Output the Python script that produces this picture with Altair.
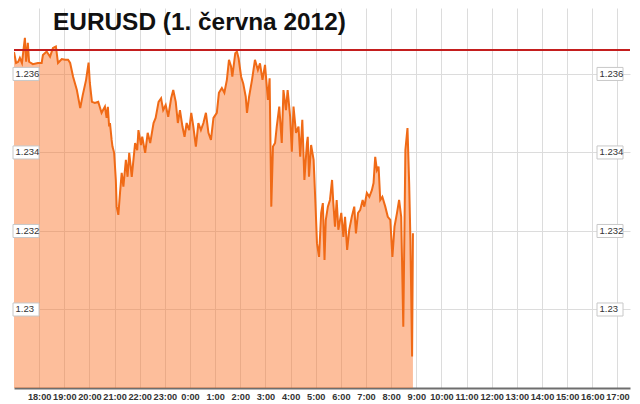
import altair as alt
import pandas as pd

# ---- data ----
TITLE = "EURUSD (1. června 2012)"

# minutes after 17:00 on 31 May 2012
MINUTES_AFTER_17H = [
    0, 5, 10, 14, 19, 26, 29, 33, 36, 45, 57, 66, 69, 78, 86, 93, 100, 105, 114, 122,
    129, 134, 141, 150, 158, 164, 172, 178, 181, 186, 193, 201, 209, 217, 221, 224, 227, 229, 233, 235,
    239, 243, 245, 249, 253, 257, 261, 267, 271, 275, 281, 289, 294, 297, 303, 306, 313, 319, 325, 333,
    338, 345, 351, 356, 362, 368, 375, 380, 386, 391, 396, 402, 407, 412, 418, 423, 428, 434, 440, 446,
    452, 458, 464, 470, 476, 484, 489, 496, 502, 508, 513, 518, 521, 528, 532, 536, 542, 547, 553, 556,
    561, 568, 575, 582, 587, 593, 599, 606, 610, 614, 618, 623, 627, 633, 639, 643, 649, 653, 659, 663,
    667, 673, 679, 683, 688, 693, 699, 701, 704, 709, 715, 720, 723, 728, 733, 737, 741, 744, 749, 754,
    759, 762, 766, 770, 774, 781, 786, 790, 795, 800, 806, 812, 816, 821, 826, 832, 836, 842, 848, 854,
    858, 862, 866, 870, 874, 879, 886, 892, 898, 903, 908, 914, 919, 924, 929, 934, 939, 943, 946, 950,
    952,
]
EURUSD = [
    1.23656, 1.23628, 1.23631, 1.23641, 1.23628, 1.23692, 1.23631, 1.23679, 1.23631, 1.23625,
    1.23628, 1.23628, 1.23648, 1.23657, 1.23644, 1.23666, 1.23670, 1.23628, 1.23638, 1.23636,
    1.23636, 1.23628, 1.23593, 1.23559, 1.23513, 1.23546, 1.23585, 1.23629, 1.23577, 1.23529,
    1.23526, 1.23529, 1.23501, 1.23517, 1.23488, 1.23516, 1.23466, 1.23475, 1.23432, 1.23415,
    1.23399, 1.23330, 1.23262, 1.23241, 1.23297, 1.23348, 1.23313, 1.23381, 1.23338, 1.23399,
    1.23338, 1.23424, 1.23406, 1.23457, 1.23419, 1.23440, 1.23399, 1.23450, 1.23424, 1.23475,
    1.23488, 1.23529, 1.23538, 1.23508, 1.23521, 1.23491, 1.23538, 1.23559, 1.23529, 1.23475,
    1.23508, 1.23466, 1.23440, 1.23475, 1.23457, 1.23501, 1.23466, 1.23415, 1.23475, 1.23457,
    1.23475, 1.23501, 1.23450, 1.23432, 1.23488, 1.23501, 1.23552, 1.23564, 1.23552, 1.23585,
    1.23636, 1.23619, 1.23593, 1.23653, 1.23657, 1.23640, 1.23593, 1.23576, 1.23542, 1.23501,
    1.23542, 1.23585, 1.23636, 1.23610, 1.23627, 1.23585, 1.23623, 1.23534, 1.23589, 1.23262,
    1.23415, 1.23424, 1.23466, 1.23517, 1.23424, 1.23559, 1.23508, 1.23559, 1.23491, 1.23402,
    1.23517, 1.23450, 1.23466, 1.23389, 1.23483, 1.23330, 1.23424, 1.23440, 1.23338, 1.23419,
    1.23381, 1.23253, 1.23169, 1.23134, 1.23246, 1.23271, 1.23126, 1.23228, 1.23262, 1.23279,
    1.23330, 1.23271, 1.23211, 1.23279, 1.23203, 1.23246, 1.23185, 1.23236, 1.23152, 1.23203,
    1.23236, 1.23262, 1.23194, 1.23246, 1.23253, 1.23279, 1.23262, 1.23297, 1.23287, 1.23304,
    1.23322, 1.23389, 1.23355, 1.23364, 1.23279, 1.23287, 1.23262, 1.23236, 1.23228, 1.23134,
    1.23211, 1.23246, 1.23279, 1.23236, 1.22956, 1.23406, 1.23462, 1.23322, 1.23177, 1.22880,
    1.23194,
]

REF_LEVEL = 1.23661
Y_TICK_VALUES = [1.236, 1.234, 1.232, 1.23]
Y_TICK_LABELS = ["1.236", "1.234", "1.232", "1.23"]
HOUR_TICKS = [18, 19, 20, 21, 22, 23, 0, 1, 2, 3, 4, 5, 6, 7, 8, 9, 10, 11, 12, 13, 14, 15, 16, 17]
Y_DOMAIN = [1.228, 1.23768]

# ---- tables ----
start = pd.Timestamp("2012-05-31 17:00")
df = pd.DataFrame({
    "t": start + pd.to_timedelta(MINUTES_AFTER_17H, unit="m"),
    "v": EURUSD,
})

half_box = 0.000166
ticks_df = pd.DataFrame({
    "v": Y_TICK_VALUES,
    "lo": [v - half_box for v in Y_TICK_VALUES],
    "hi": [v + half_box for v in Y_TICK_VALUES],
    "label": Y_TICK_LABELS,
})

hour_values = [
    alt.DateTime(year=2012, month=5, date=31, hours=h) if h >= 18
    else alt.DateTime(year=2012, month=6, date=1, hours=h)
    for h in HOUR_TICKS
]
x_domain = [alt.DateTime(year=2012, month=5, date=31, hours=17),
            alt.DateTime(year=2012, month=6, date=1, hours=17, minutes=30)]

x_scale = alt.Scale(domain=x_domain, nice=False)
y_scale = alt.Scale(domain=Y_DOMAIN, zero=False, nice=False)

GRID = "#dcdcdc"

x_enc = alt.X(
    "t:T",
    scale=x_scale,
    axis=alt.Axis(
        values=hour_values,
        tickCount=40,
        format="%-H:%M",
        title=None,
        grid=True,
        gridColor=GRID,
        gridWidth=1,
        ticks=False,
        domainColor="#6e6e6e",
        domainWidth=2,
        labelFont="Liberation Sans",
        labelFontWeight="bold",
        labelFontSize=9.2,
        labelColor="#333333",
        labelPadding=4,
        labelOverlap=False,
        labelFlush=False,
    ),
)
y_enc = alt.Y(
    "v:Q",
    scale=y_scale,
    axis=alt.Axis(
        values=Y_TICK_VALUES,
        tickCount=10,
        title=None,
        grid=True,
        gridColor=GRID,
        gridWidth=1,
        labels=False,
        ticks=False,
        domain=False,
    ),
)

base = alt.Chart(df)
area = base.mark_area(color="#fb6f21", opacity=0.45, clip=True).encode(x=x_enc, y=y_enc)
line = base.mark_line(color="#f06a16", strokeWidth=2, clip=True).encode(x="t:T", y="v:Q")

rule = alt.Chart(pd.DataFrame({"v": [REF_LEVEL]})).mark_rule(
    color="#c41e1e", strokeWidth=2
).encode(y=alt.Y("v:Q", scale=y_scale))

tick_base = alt.Chart(ticks_df)
box_left = tick_base.mark_rect(fill="white", stroke="#c8c8c8", strokeWidth=1).encode(
    y=alt.Y("lo:Q", scale=y_scale), y2="hi:Q", x=alt.value(-1), x2=alt.value(25)
)
txt_left = tick_base.mark_text(
    align="left", baseline="middle", fontSize=9.5, font="Liberation Sans", color="#333333"
).encode(y=alt.Y("v:Q", scale=y_scale), x=alt.value(1.5), text="label:N")
box_right = tick_base.mark_rect(fill="white", stroke="#c8c8c8", strokeWidth=1).encode(
    y=alt.Y("lo:Q", scale=y_scale), y2="hi:Q", x=alt.value(583), x2=alt.value(609)
)
txt_right = tick_base.mark_text(
    align="left", baseline="middle", fontSize=9.5, font="Liberation Sans", color="#333333"
).encode(y=alt.Y("v:Q", scale=y_scale), x=alt.value(585.5), text="label:N")

title = alt.Chart(pd.DataFrame({"title": [TITLE]})).mark_text(
    align="left", baseline="alphabetic", fontSize=24.4, fontWeight="bold",
    font="Liberation Sans", color="#111111"
).encode(x=alt.value(39), y=alt.value(22), text="title:N")

chart = (
    alt.layer(area, line, rule, box_left, txt_left, box_right, txt_right, title)
    .properties(
        width=616,
        height=380,
        autosize=alt.AutoSizeParams(type="none"),
        padding={"left": 6, "top": 0, "right": 2, "bottom": 16},
        background="white",
    )
    .configure_view(stroke=None)
)

chart.save("out.html", embed_options={"renderer": "svg", "actions": False})
